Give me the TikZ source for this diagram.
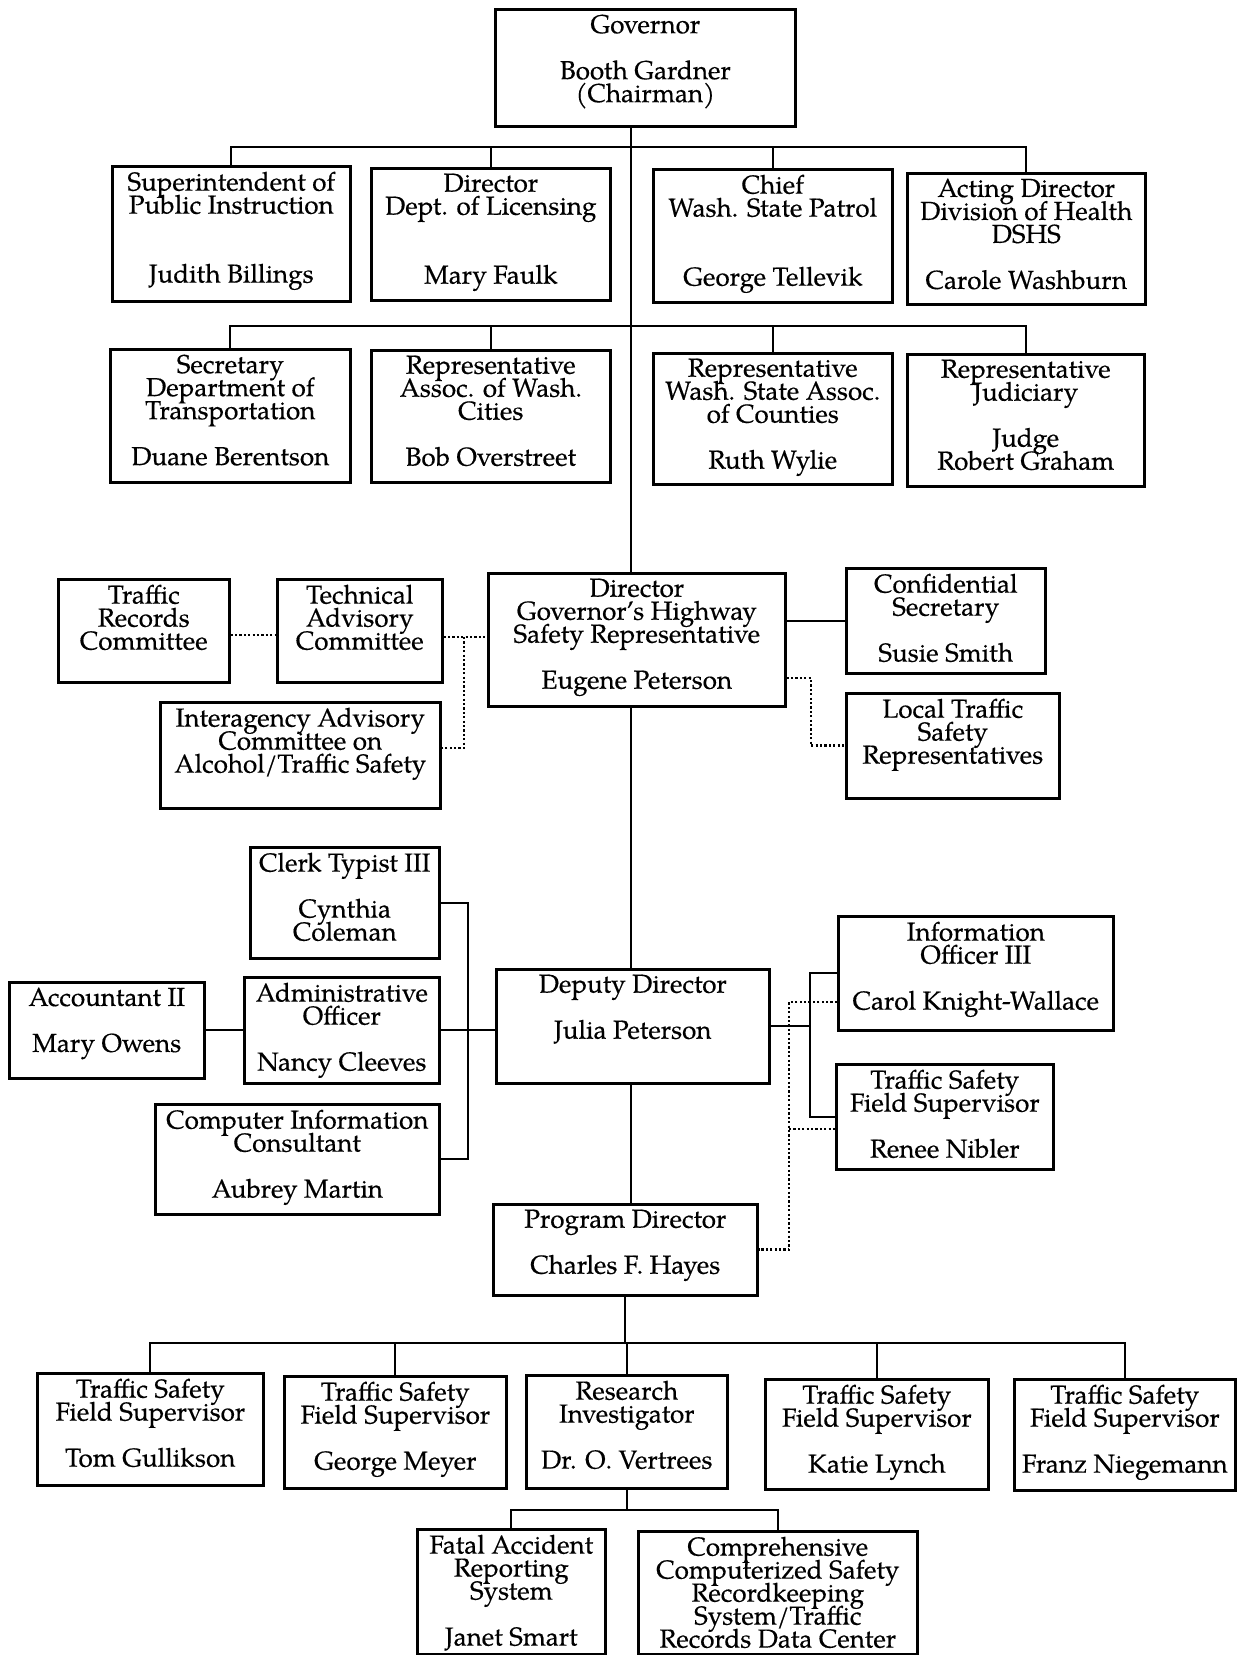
\documentclass[tikz,border=0pt]{standalone}
\usepackage{fontspec}
\setmainfont{TeX Gyre Pagella}[FakeBold=0.4]
\setlength{\lineskiplimit}{-100pt}
\setlength{\lineskip}{0pt}
\tikzset{
 box/.style={draw, line width=2.6pt, rectangle, inner sep=0pt, anchor=north west},
 lbl/.style={anchor=north, inner sep=0pt, align=center, font=\fontsize{26}{23}\selectfont},
 con/.style={line width=1.8pt},
 dotline/.style={line width=2.8pt, dash pattern=on 2.2pt off 2.2pt},
}
\newcommand{\obox}[6]{%
 \node[box, minimum width={(#4-#2)*1pt}, minimum height={(#5-#3)*1pt}] (#1) at (#2,#3) {};
 \node[lbl, yshift=-6.5pt] (#1t) at (#1.north) {#6};
}
\begin{document}
\begin{tikzpicture}[x=1pt,y=-1pt]
\useasboundingbox (0,0) rectangle (1241,1655);
% boxes
\obox{gov}{494}{8}{794}{125}{Governor\\[23pt]Booth Gardner\\(Chairman)}
\obox{sup}{111}{165}{349}{300}{Superintendent of\\Public Instruction\\[46pt]Judith Billings}
\obox{lic}{370}{167}{609}{299}{Director\\Dept. of Licensing\\[46pt]Mary Faulk}
\obox{wsp}{652}{168}{891}{301}{Chief\\Wash. State Patrol\\[46pt]George Tellevik}
\obox{dshs}{906}{172}{1144}{303}{Acting Director\\Division of Health\\DSHS\\[23pt]Carole Washburn}
\obox{dot}{109}{348}{349}{481}{Secretary\\Department of\\Transportation\\[23pt]Duane Berentson}
\obox{awc}{370}{349}{609}{481}{Representative\\Assoc. of Wash.\\Cities\\[23pt]Bob Overstreet}
\obox{wsac}{652}{352}{891}{483}{Representative\\Wash. State Assoc.\\of Counties\\[23pt]Ruth Wylie}
\obox{jud}{906}{353}{1143}{485}{Representative\\Judiciary\\[23pt]Judge\\Robert Graham}
\obox{trc}{57}{578}{228}{681}{Traffic\\Records\\Committee}
\obox{tac}{276}{578}{441}{681}{Technical\\Advisory\\Committee}
\obox{ghsr}{487}{572}{784}{705}{Director\\Governor’s Highway\\Safety Representative\\[23pt]Eugene Peterson}
\obox{conf}{845}{567}{1044}{672}{Confidential\\Secretary\\[23pt]Susie Smith}
\obox{ltsr}{845}{692}{1058}{797}{Local Traffic\\Safety\\Representatives}
\obox{iac}{159}{701}{439}{807}{Interagency Advisory\\Committee on\\Alcohol/Traffic Safety}
\obox{clerk}{249}{846}{438}{957}{Clerk Typist III\\[23pt]Cynthia\\Coleman}
\obox{acct}{8}{981}{203}{1077}{Accountant II\\[23pt]Mary Owens}
\obox{admin}{243}{976}{438}{1082}{Administrative\\Officer\\[23pt]Nancy Cleeves}
\obox{cic}{154}{1103}{438}{1213}{Computer Information\\Consultant\\[23pt]Aubrey Martin}
\obox{dep}{495}{968}{768}{1082}{Deputy Director\\[23pt]Julia Peterson}
\obox{info}{837}{915}{1112}{1029}{Information\\Officer III\\[23pt]Carol Knight-Wallace}
\obox{tsr}{835}{1063}{1052}{1168}{Traffic Safety\\Field Supervisor\\[23pt]Renee Nibler}
\obox{prog}{492}{1203}{756}{1294}{Program Director\\[23pt]Charles F. Hayes}
\obox{tom}{36}{1372}{262}{1484}{Traffic Safety\\Field Supervisor\\[23pt]Tom Gullikson}
\obox{meyer}{283}{1375}{505}{1487}{Traffic Safety\\Field Supervisor\\[23pt]George Meyer}
\obox{res}{525}{1374}{726}{1487}{Research\\Investigator\\[23pt]Dr. O. Vertrees}
\obox{lynch}{764}{1378}{987}{1488}{Traffic Safety\\Field Supervisor\\[23pt]Katie Lynch}
\obox{franz}{1013}{1378}{1234}{1489}{Traffic Safety\\Field Supervisor\\[23pt]Franz Niegemann}
\obox{fars}{416}{1528}{604}{1653}{Fatal Accident\\Reporting\\System\\[23pt]Janet Smart}
\obox{ccs}{637}{1530}{916}{1653}{Comprehensive\\Computerized Safety\\Recordkeeping\\System/Traffic\\Records Data Center}
% helper coordinates
\coordinate (tx) at (631,0);
\coordinate (b1) at (0,147);
\coordinate (b2) at (0,326);
\coordinate (b3) at (0,1343);
\coordinate (b4) at (0,1510);
\coordinate (dy1) at (0,678);
\coordinate (dx1) at (811,0);
\coordinate (dy2) at (0,635);
\coordinate (dy3) at (0,637);
\coordinate (dx2) at (464,0);
\coordinate (dy4) at (0,748);
\coordinate (bx) at (468,0);
\coordinate (rx) at (810,0);
\coordinate (dxr) at (789,0);
\coordinate (dya) at (0,1002);
\coordinate (dyb) at (0,1129);
% trunk
\draw[con] (gov.south -| tx) -- (ghsr.north -| tx);
\draw[con] (ghsr.south -| tx) -- (dep.north -| tx);
\draw[con] (dep.south -| tx) -- (prog.north -| tx);
\draw[con] (prog.south) -- (prog.south |- b3);
% row 1
\draw[con] (sup.north) -- (sup.north |- b1) -- (dshs.north |- b1) -- (dshs.north);
\draw[con] (lic.north) -- (lic.north |- b1);
\draw[con] (wsp.north) -- (wsp.north |- b1);
% row 2
\draw[con] (dot.north) -- (dot.north |- b2) -- (jud.north |- b2) -- (jud.north);
\draw[con] (awc.north) -- (awc.north |- b2);
\draw[con] (wsac.north) -- (wsac.north |- b2);
% GHSR level
\draw[con] (ghsr.east |- conf.west) -- (conf.west);
\draw[dotline] (ghsr.east |- dy1) -- (dx1 |- dy1) -- (dx1 |- ltsr.west) -- (ltsr.west);
\draw[dotline] (trc.east |- dy2) -- (tac.west |- dy2);
\draw[dotline] (tac.east |- dy3) -- (ghsr.west |- dy3);
\draw[dotline] (dx2 |- dy3) -- (dx2 |- dy4) -- (iac.east |- dy4);
% deputy level left
\draw[con] (admin.east) -- (admin.east -| dep.west);
\draw[con] (acct.east) -- (acct.east -| admin.west);
\draw[con] (clerk.east) -- (clerk.east -| bx) -- (cic.east -| bx) -- (cic.east);
% deputy level right
\draw[con] (dep.east) -- (dep.east -| rx);
\draw[con] (info.west) -- (info.west -| rx) -- (tsr.west -| rx) -- (tsr.west);
\draw[dotline] (info.west |- dya) -- (dxr |- dya) -- (dxr |- prog.east) -- (prog.east);
\draw[dotline] (dxr |- dyb) -- (tsr.west |- dyb);
% bottom row
\draw[con] (tom.north) -- (tom.north |- b3) -- (franz.north |- b3) -- (franz.north);
\draw[con] (meyer.north) -- (meyer.north |- b3);
\draw[con] (res.north) -- (res.north |- b3);
\draw[con] (lynch.north) -- (lynch.north |- b3);
\draw[con] (res.south) -- (res.south |- b4);
\draw[con] (fars.north) -- (fars.north |- b4) -- (ccs.north |- b4) -- (ccs.north);
\end{tikzpicture}
\end{document}
